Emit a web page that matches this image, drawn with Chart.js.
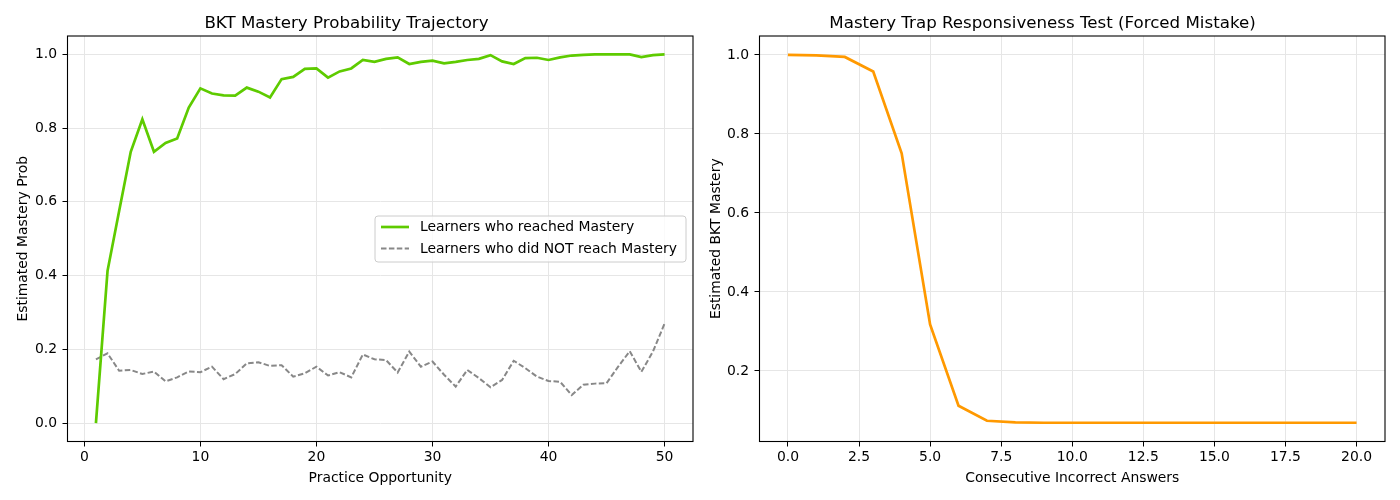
<!DOCTYPE html>
<html><head><meta charset="utf-8">
<script src="https://cdn.jsdelivr.net/npm/chart.js@4.4.0/dist/chart.umd.min.js"></script>
<style>
html,body{margin:0;padding:0;background:#fff;}
#wrap{position:relative;width:1400px;height:500px;overflow:hidden;}
.c{position:absolute;top:0;width:700px;height:500px;}
canvas{display:block;}
</style></head><body>
<div id="wrap">
<div class="c" style="left:0"><canvas id="c1" width="700" height="500"></canvas></div>
<div class="c" style="left:700px"><canvas id="c2" width="700" height="500"></canvas></div>
</div>
<script>
// ---- data ----
const opportunities = Array.from({length: 50}, (_, i) => i + 1);
const masteredProb = [0.000,0.413,0.575,0.736,0.824,0.736,0.760,0.772,0.856,0.908,
  0.894,0.889,0.888,0.910,0.899,0.883,0.933,0.939,0.961,0.962,
  0.937,0.954,0.962,0.985,0.980,0.988,0.992,0.974,0.980,0.983,
  0.976,0.980,0.985,0.988,0.998,0.981,0.974,0.990,0.991,0.985,
  0.992,0.997,0.999,1.000,1.000,1.000,1.000,0.993,0.998,1.000];
const notMasteredProb = [0.173,0.189,0.142,0.144,0.133,0.140,0.113,0.124,0.140,0.138,
  0.153,0.119,0.133,0.162,0.165,0.155,0.157,0.126,0.135,0.153,
  0.129,0.138,0.124,0.186,0.173,0.171,0.137,0.194,0.153,0.167,
  0.131,0.099,0.144,0.122,0.097,0.117,0.169,0.149,0.126,0.114,
  0.112,0.076,0.104,0.107,0.108,0.153,0.195,0.139,0.194,0.270];
const incorrectCount = Array.from({length: 21}, (_, i) => i);
const trapMastery = [1.000,0.999,0.995,0.958,0.751,0.318,0.112,0.074,0.070,0.069,
  0.069,0.069,0.069,0.069,0.069,0.069,0.069,0.069,0.069,0.069,0.069];
const leftXTicks = [0,10,20,30,40,50];
const leftYTicks = [0.0,0.2,0.4,0.6,0.8,1.0];
const rightXTicks = [0,2.5,5,7.5,10,12.5,15,17.5,20];
const rightYTicks = [0.2,0.4,0.6,0.8,1.0];
const seriesLabels = ['Learners who reached Mastery','Learners who did NOT reach Mastery'];
const titles = ['BKT Mastery Probability Trajectory','Mastery Trap Responsiveness Test (Forced Mistake)'];

// ---- styling ----
const FONT = "'DejaVu Sans', sans-serif";
const GRID = '#e6e6e6';
Chart.defaults.font.family = FONT;
Chart.defaults.color = '#000';

const framePlugin = {
  id: 'frame',
  afterDraw(chart) {
    const {ctx, chartArea: a} = chart;
    ctx.save();
    ctx.strokeStyle = '#000';
    ctx.lineWidth = 1.1;
    ctx.strokeRect(a.left, a.top, a.right - a.left, a.bottom - a.top);
    ctx.restore();
  }
};

const boxLegend = {
  id: 'boxLegend',
  afterDraw(chart, args, opts) {
    if (!opts.show) return;
    const ctx = chart.ctx;
    const x = 375, y = 216, w = 311, h = 46, r = 3;
    ctx.save();
    ctx.beginPath();
    ctx.moveTo(x + r, y);
    ctx.arcTo(x + w, y, x + w, y + h, r);
    ctx.arcTo(x + w, y + h, x, y + h, r);
    ctx.arcTo(x, y + h, x, y, r);
    ctx.arcTo(x, y, x + w, y, r);
    ctx.closePath();
    ctx.fillStyle = 'rgba(255,255,255,0.8)';
    ctx.fill();
    ctx.strokeStyle = '#cccccc';
    ctx.lineWidth = 1;
    ctx.stroke();
    ctx.font = "13.9px " + FONT;
    ctx.textBaseline = 'middle';
    ctx.fillStyle = '#000';
    chart.data.datasets.forEach((ds, i) => {
      const ly = y + 11 + i * 21.5;
      ctx.beginPath();
      ctx.setLineDash(ds.borderDash || []);
      ctx.strokeStyle = ds.borderColor;
      ctx.lineWidth = ds.borderWidth;
      ctx.moveTo(381, ly);
      ctx.lineTo(409, ly);
      ctx.stroke();
      ctx.setLineDash([]);
      ctx.fillText(ds.label, 420, ly + 0.5);
    });
    ctx.restore();
  }
};

function axis(ticksArr, fmt, min, max, title, isY, fitSize, titlePad) {
  return {
    type: 'linear', min, max,
    afterBuildTicks: s => { s.ticks = ticksArr.map(v => ({value: v})); },
    afterFit: s => { if (isY) s.width = fitSize; else s.height = fitSize; },
    grid: {color: GRID, lineWidth: 1, drawTicks: true, tickLength: 5, tickColor: '#000', tickWidth: 1},
    border: {display: false},
    ticks: {font: {size: 13.9}, color: '#000', padding: isY ? 5.5 : 3, callback: fmt, maxRotation: 0, autoSkip: false},
    title: {display: true, text: title, font: {size: 13.9}, color: '#000', padding: titlePad}
  };
}

function makeChart(id, datasets, xs, ys, titleText, legendShow, rightPad) {
  return new Chart(document.getElementById(id), {
    type: 'line',
    data: {datasets},
    options: {
      responsive: false, animation: false, devicePixelRatio: 1,
      layout: {padding: {left: 0, right: rightPad, top: 0, bottom: 0}},
      plugins: {
        legend: {display: false},
        tooltip: {enabled: false},
        title: {display: true, text: titleText, font: {size: 16.67, weight: 'normal'}, color: '#000',
                padding: {top: 14, bottom: 2}},
        boxLegend: {show: legendShow}
      },
      elements: {point: {radius: 0}, line: {tension: 0}},
      scales: {x: xs, y: ys}
    },
    plugins: [framePlugin, boxLegend]
  });
}

makeChart('c1', [
  {label: seriesLabels[0], data: opportunities.map((x, i) => ({x, y: masteredProb[i]})),
   borderColor: '#5ecb00', borderWidth: 2.7},
  {label: seriesLabels[1], data: opportunities.map((x, i) => ({x, y: notMasteredProb[i]})),
   borderColor: '#888888', borderWidth: 2, borderDash: [5.5, 2.4]}
],
  axis(leftXTicks, v => String(v), -1.45, 52.45, 'Practice Opportunity', false, 58.5, {top: 0, bottom: 13}),
  axis(leftYTicks, v => v.toFixed(1), -0.05, 1.05, 'Estimated Mastery Prob', true, 67.5, {top: 15.5, bottom: 0}),
  titles[0], true, 7);

makeChart('c2', [
  {label: 'BKT Mastery', data: incorrectCount.map((x, i) => ({x, y: trapMastery[i]})),
   borderColor: '#ff9900', borderWidth: 2.7}
],
  axis(rightXTicks, v => v.toFixed(1), -1.0, 21.0, 'Consecutive Incorrect Answers', false, 58.5, {top: 0, bottom: 13}),
  axis(rightYTicks, v => v.toFixed(1), 0.0215, 1.048, 'Estimated BKT Mastery', true, 59.5, {top: 8.5, bottom: 0}),
  titles[1], false, 15);
</script>
</body></html>
